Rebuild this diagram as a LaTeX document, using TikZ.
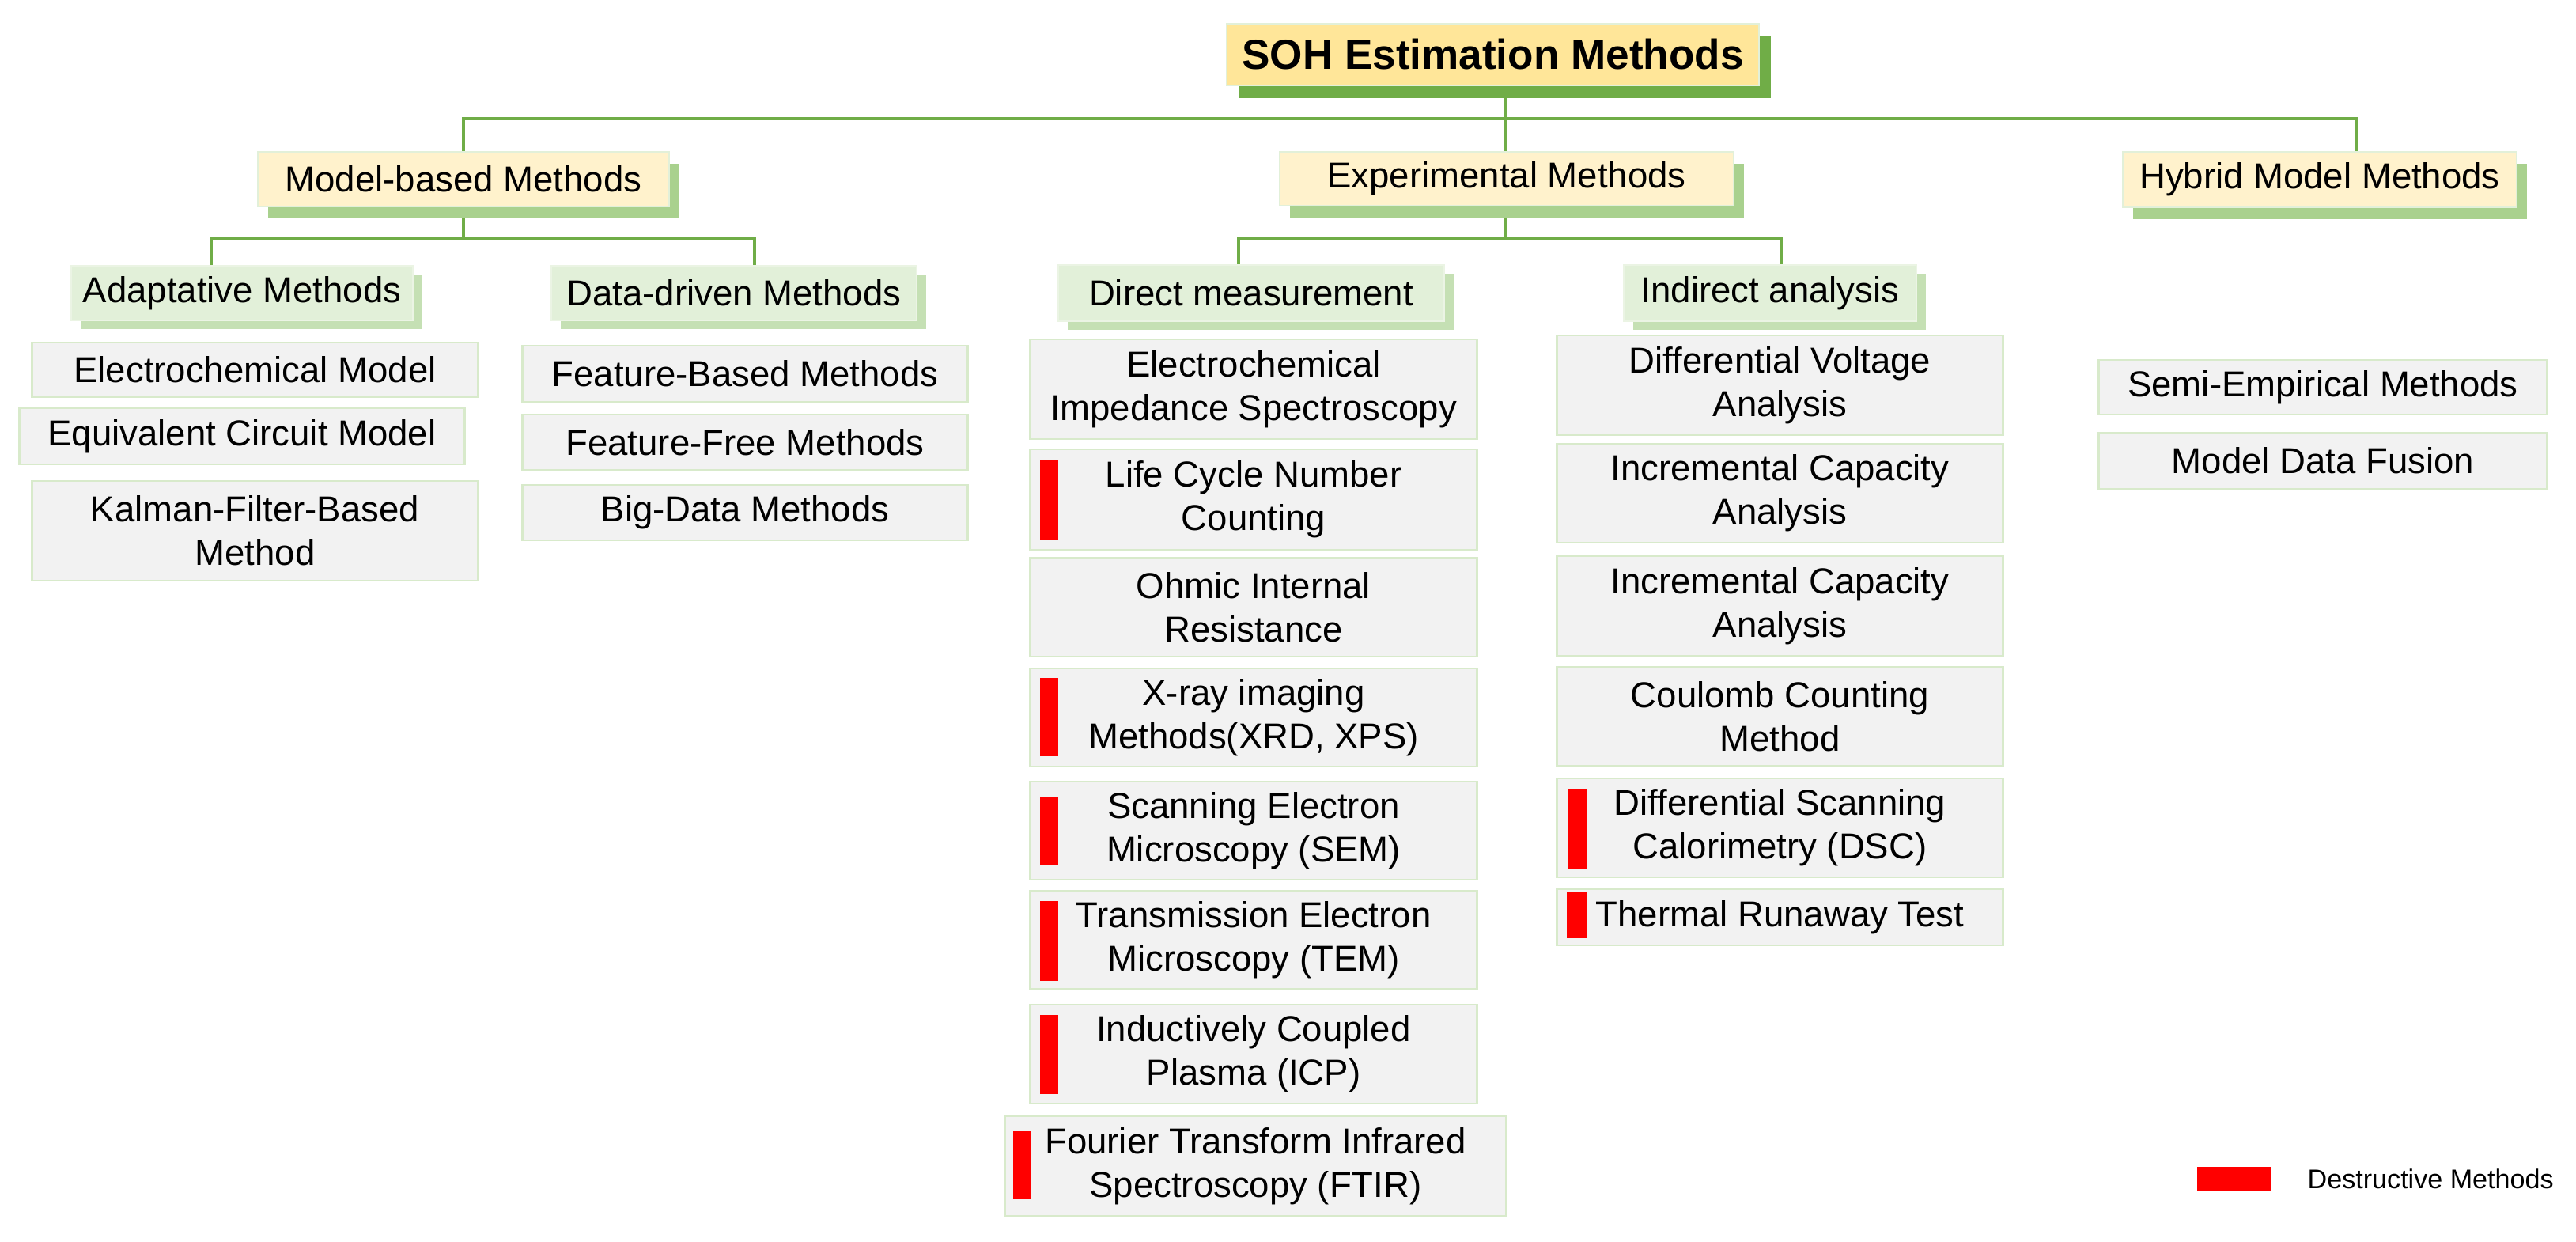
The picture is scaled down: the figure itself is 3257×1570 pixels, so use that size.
\documentclass[tikz,border=0pt]{standalone}
\usepackage{fontspec}
\setmainfont{Liberation Sans}
\usetikzlibrary{shadows,backgrounds}
\definecolor{lineg}{HTML}{70AD47}
\definecolor{titlefill}{HTML}{FFE699}
\definecolor{creamfill}{HTML}{FFF2CC}
\definecolor{palegreen}{HTML}{E2F0D9}
\definecolor{shadowmid}{HTML}{A9D18E}
\definecolor{shadowlight}{HTML}{C5E0B4}
\definecolor{leafgrey}{HTML}{F2F2F2}
\definecolor{leafborder}{HTML}{D8EACB}
\tikzset{
  boxbase/.style={rectangle, inner sep=0pt, align=center, text=black,
    font=\fontsize{12.95}{15.6}\selectfont},
  topbox/.style={boxbase, fill=titlefill, draw=palegreen, line width=0.5pt,
    font=\fontsize{15.1}{18}\selectfont\bfseries,
    drop shadow={shadow xshift=0.15cm, shadow yshift=-0.16cm, fill=lineg, opacity=1}},
  lvlone/.style={boxbase, fill=creamfill, draw=palegreen, line width=0.5pt,
    drop shadow={shadow xshift=0.13cm, shadow yshift=-0.15cm, fill=shadowmid, opacity=1}},
  lvltwo/.style={boxbase, fill=palegreen, draw=palegreen!70!white, line width=0.5pt,
    drop shadow={shadow xshift=0.12cm, shadow yshift=-0.11cm, fill=shadowlight, opacity=1}},
  leaf/.style={boxbase, fill=leafgrey, draw=leafborder, line width=0.8pt},
  connector/.style={draw=lineg, line width=1.4pt, line join=miter},
  redbar/.style={fill=red}
}
\begin{document}
\begin{tikzpicture}[x=0.01cm, y=-0.01cm]
\useasboundingbox (0,0) rectangle (3257,1570);

% title and level 1
\node[topbox, minimum width=6.73cm, minimum height=0.78cm] (title) at (1887.5,69) {SOH Estimation Methods};
\node[lvlone, minimum width=5.20cm, minimum height=0.69cm] (mb) at (586,226.5) {Model-based Methods};
\node[lvlone, minimum width=5.73cm, minimum height=0.68cm] (exp) at (1905,226) {Experimental Methods};
\node[lvlone, minimum width=4.98cm, minimum height=0.70cm] (hyb) at (2933,227) {Hybrid Model Methods};

% level 2
\node[lvltwo, minimum width=4.32cm, minimum height=0.69cm] (ad) at (306,370.5) {Adaptative Methods};
\node[lvltwo, minimum width=4.62cm, minimum height=0.69cm] (dd) at (928,370.5) {Data-driven Methods};
\node[lvltwo, minimum width=4.88cm, minimum height=0.71cm] (dm) at (1582,370.5) {Direct measurement};
\node[lvltwo, minimum width=3.70cm, minimum height=0.71cm] (ia) at (2238,370.5) {Indirect analysis};

% model-based leaves
\node[leaf, minimum width=5.63cm, minimum height=0.69cm] (ecm) at (322.5,467.5) {Electrochemical Model};
\node[leaf, minimum width=5.62cm, minimum height=0.71cm] (eqc) at (306,551.5) {Equivalent Circuit Model};
\node[leaf, minimum width=5.63cm, minimum height=1.26cm] (kal) at (322.5,671) {Kalman-Filter-Based\\Method};
\node[leaf, minimum width=5.62cm, minimum height=0.71cm] (fb) at (942,472.5) {Feature-Based Methods};
\node[leaf, minimum width=5.62cm, minimum height=0.70cm] (ff) at (942,559) {Feature-Free Methods};
\node[leaf, minimum width=5.62cm, minimum height=0.70cm] (bd) at (942,648) {Big-Data Methods};

% direct measurement leaves
\node[leaf, minimum width=5.64cm, minimum height=1.26cm] (eis) at (1585,492) {Electrochemical\\Impedance Spectroscopy};
\node[leaf, minimum width=5.64cm, minimum height=1.27cm] (lc) at (1585,631.5) {Life Cycle Number\\Counting};
\node[leaf, minimum width=5.64cm, minimum height=1.25cm] (ohm) at (1585,767.5) {Ohmic Internal\\Resistance};
\node[leaf, minimum width=5.64cm, minimum height=1.24cm] (xray) at (1585,907) {X-ray imaging\\Methods(XRD, XPS)};
\node[leaf, minimum width=5.64cm, minimum height=1.24cm] (sem) at (1585,1050) {Scanning Electron\\Microscopy (SEM)};
\node[leaf, minimum width=5.64cm, minimum height=1.24cm] (tem) at (1585,1188) {Transmission Electron\\Microscopy (TEM)};
\node[leaf, minimum width=5.64cm, minimum height=1.25cm] (icp) at (1585,1332.5) {Inductively Coupled\\Plasma (ICP)};
\node[leaf, minimum width=6.33cm, minimum height=1.26cm] (ftir) at (1587.5,1474) {Fourier Transform Infrared\\Spectroscopy (FTIR)};

% indirect analysis leaves
\node[leaf, minimum width=5.63cm, minimum height=1.26cm] (dva) at (2250.5,487) {Differential Voltage\\Analysis};
\node[leaf, minimum width=5.63cm, minimum height=1.25cm] (icaa) at (2250.5,623.5) {Incremental Capacity\\Analysis};
\node[leaf, minimum width=5.63cm, minimum height=1.26cm] (icab) at (2250.5,766) {Incremental Capacity\\Analysis};
\node[leaf, minimum width=5.63cm, minimum height=1.25cm] (ccm) at (2250.5,905.5) {Coulomb Counting\\Method};
\node[leaf, minimum width=5.63cm, minimum height=1.25cm] (dsc) at (2250.5,1046.5) {Differential Scanning\\Calorimetry (DSC)};
\node[leaf, minimum width=5.63cm, minimum height=0.71cm] (trt) at (2250.5,1159.5) {Thermal Runaway Test};

% hybrid leaves
\node[leaf, minimum width=5.66cm, minimum height=0.69cm] (sem2) at (2937,489.5) {Semi-Empirical Methods};
\node[leaf, minimum width=5.66cm, minimum height=0.71cm] (mdf) at (2937,582.5) {Model Data Fusion};

% destructive markers
\fill[redbar] (1315,581) rectangle (1338,682);
\fill[redbar] (1315,857) rectangle (1338,956);
\fill[redbar] (1315,1008) rectangle (1338,1094);
\fill[redbar] (1315,1139) rectangle (1338,1240);
\fill[redbar] (1315,1283) rectangle (1338,1383);
\fill[redbar] (1281,1430) rectangle (1303,1516);
\fill[redbar] (1983,997) rectangle (2006,1098);
\fill[redbar] (1981,1128) rectangle (2006,1186);

% legend
\node[redbar, rectangle, inner sep=0pt, minimum width=0.94cm, minimum height=0.31cm] (lgbar) at (2825,1490.5) {};
\node[anchor=west, inner sep=0pt, font=\fontsize{9.7}{11}\selectfont] (lgtext) at (2917,1490.5) {Destructive Methods};

% connectors
\coordinate (hl) at (586,150);
\coordinate (hm) at (1903,150);
\coordinate (hr) at (2979,150);
\coordinate (ml) at (267,301);
\coordinate (mr) at (954,301);
\coordinate (el) at (1566,302);
\coordinate (er) at (2252,302);
\begin{scope}[on background layer]
\fill[white] (0,0) rectangle (3257,1570);
\draw[connector] (mb.north -| hl) -- (hl) -- (hr) -- (hyb.north -| hr);
\draw[connector] (title.south -| hm) -- (exp.north -| hm);
\draw[connector] (mb.south) -- (mb.south |- ml);
\draw[connector] (ad.north -| ml) -- (ml) -- (mr) -- (dd.north -| mr);
\draw[connector] (exp.south -| hm) -- (hm |- el);
\draw[connector] (dm.north -| el) -- (el) -- (er) -- (ia.north -| er);
\end{scope}
\end{tikzpicture}
\end{document}
